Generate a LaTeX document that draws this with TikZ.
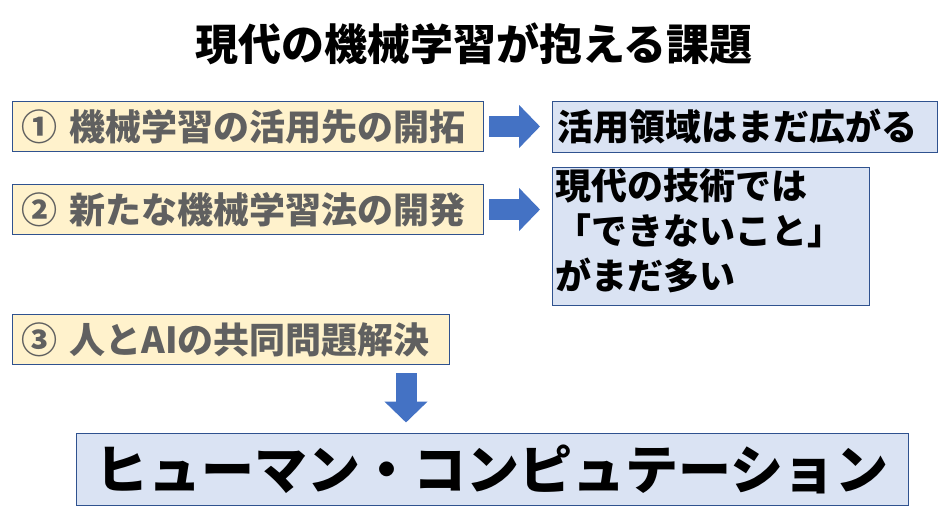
\documentclass[tikz,border=0pt]{standalone}
\usepackage{fontspec}
\setmainfont{Noto Sans CJK JP}
\usepackage{tikz}
\usetikzlibrary{positioning,arrows.meta}
\definecolor{kadaifill}{HTML}{FFF2CC}
\definecolor{kekkafill}{HTML}{DAE3F3}
\definecolor{waku}{HTML}{2F528F}
\definecolor{yajirushi}{HTML}{4472C4}
\definecolor{haiiro}{HTML}{606060}
\newcommand{\fsz}[2]{\fontsize{#1pt}{#2pt}\selectfont}

\begin{document}
\begin{tikzpicture}[x=1pt, y=-1pt, thick,
  kadai/.style = {draw=waku, line width=1pt, fill=kadaifill, text=haiiro, font=\bfseries\fsz{36}{42}, minimum height=50pt, text width=453pt, align=left, inner xsep=9pt},
  kekka/.style = {draw=waku, line width=1pt, fill=kekkafill, text=black, font=\bfseries\fsz{36}{45}, align=left},
  bigarrow/.style = {draw=yajirushi, line width=21pt, -{Triangle[length=21pt, width=42pt]}}]
\useasboundingbox (0,0) rectangle (952,530);
\node[font=\bfseries\fsz{43}{50}] (title) at (474,44) {現代の機械学習が抱える課題};
\node[kadai, anchor=north west] (k1) at (12,101) {① 機械学習の活用先の開拓};
\node[kadai] (k2) [below=32pt of k1] {② 新たな機械学習法の開発};
\node[kadai, text width=419pt] (k3) [below=79pt of k2.south west, anchor=north west] {③ 人とAIの共同問題解決};
\node[kekka, minimum height=51pt, text width=375pt, inner xsep=5pt] (r1) [right=68pt of k1] {活用領域はまだ広がる};
\node[kekka, minimum height=138pt, text width=311pt, inner xsep=3pt, inner ysep=0pt] (r2) [below=14pt of r1.south west, anchor=north west] {現代の技術では\\「できないこと」\\がまだ多い\par\vspace{11pt}};
\node[kekka, font=\bfseries\fsz{53}{60}, minimum width=832pt, minimum height=72pt, align=center] (hc) at (492,469) {ヒューマン・コンピュテーション};
\coordinate (ya) at (406,400);
\draw[bigarrow, shorten <=5pt, shorten >=12pt] (k1.east) -- (k1.east -| r1.west);
\draw[bigarrow, shorten <=5pt, shorten >=12pt] (k2.east) -- (k2.east -| r2.west);
\draw[bigarrow, shorten <=8pt, shorten >=10pt] (ya |- k3.south) -- (ya |- hc.north);
\end{tikzpicture}
\end{document}
